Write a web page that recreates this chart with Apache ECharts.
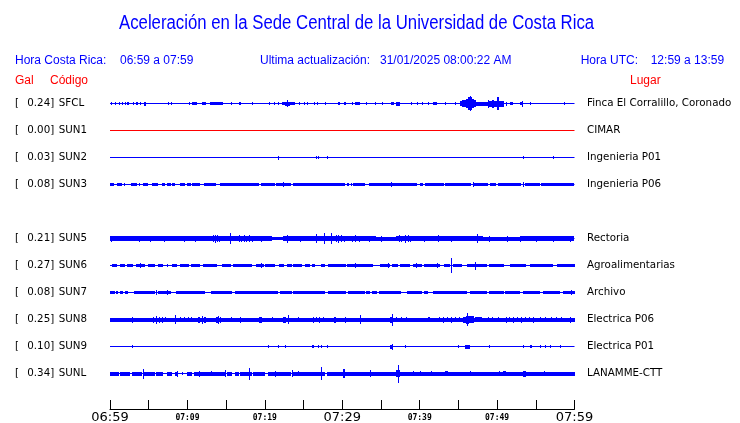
<!DOCTYPE html>
<html><head><meta charset="utf-8">
<script src="https://cdn.jsdelivr.net/npm/echarts@6/dist/echarts.min.js"></script>
<style>html,body{margin:0;padding:0;background:#fff}#c{width:740px;height:423px}</style>
</head><body><div id="c"></div>
<script>
// ---- data ----
const CODES  = ['SFCL','SUN1','SUN2','SUN3','SUN4','SUN5','SUN6','SUN7','SUN8','SUN9','SUNL'];
const GAL    = [0.24, 0.00, 0.03, 0.08, null, 0.21, 0.27, 0.08, 0.25, 0.10, 0.34];
const PLACES = ['Finca El Corralillo, Coronado','CIMAR','Ingenieria P01','Ingenieria P06','','Rectoria','Agroalimentarias','Archivo','Electrica P06','Electrica P01','LANAMME-CTT'];
const TICK_VALUES = [0, 10, 20, 30, 40, 50, 60];             // minutes after 06:59
const TICK_TEXT   = ['06:59','07:09','07:19','07:29','07:39','07:49','07:59'];
const MAJOR_TICKS = ['06:59','07:29','07:59'];

// envelope events per station: [start minute, end minute, amplitude]
const SFCL = [[0.1,0.1,1],[0.6,0.6,1],[1.1,1.1,1],[1.5,1.5,1],[2.0,2.0,1],[2.2,2.5,1],[3.0,3.0,1],[3.4,3.7,1],[3.9,3.9,1],[4.4,4.6,1.5],[7.5,7.5,1],[7.9,7.9,1],[10.2,10.2,1],[10.6,11.2,1],[11.9,12.4,1],[12.9,14.6,1],[15.6,15.6,1],[16.7,16.9,1],[18.3,18.3,1],[20.6,20.6,1],[21.2,21.2,1],[21.7,21.7,1],[22.2,23.9,1],[22.8,22.8,3],[22.6,23.2,1.5],[24.4,24.4,1],[25.1,25.1,1],[25.5,25.5,1],[26.3,26.3,1],[26.8,26.8,1],[27.8,27.8,1],[29.5,29.7,1],[30.2,30.2,1],[30.3,30.3,1],[31.2,31.2,1],[31.7,32.3,1],[33.1,33.1,1],[34.2,34.2,1],[35.1,35.1,1],[36.3,36.7,1],[37.0,37.5,1.5],[38.9,38.9,1],[39.6,39.6,1],[40.3,40.3,1],[41.1,41.1,1],[41.7,41.7,1],[41.9,42.3,1],[43.3,43.3,1],[44.5,44.5,1],[45.2,45.5,2],[45.5,46.0,3],[46.0,46.3,4],[46.3,46.8,6],[46.5,46.6,7],[46.8,47.0,4],[47.0,47.3,3],[47.3,48.8,1.5],[48.8,48.8,3.5],[49.0,50.0,2.5],[49.4,49.6,3.5],[50.0,50.3,6],[50.3,51.0,2.5],[51.2,51.2,1.5],[51.7,52.1,1],[53.0,53.4,1],[53.2,53.2,2.5],[54.3,54.3,1],[58.6,58.6,1]];
const SUN1 = [];
const SUN2 = [[21.7,21.7,1.5],[26.6,26.6,1],[26.9,26.9,1],[28.0,28.0,1],[53.4,53.4,1],[57.2,57.2,1]];
const SUN3 = [[0,0.5,1],[0.9,1.5,1],[1.8,1.8,1],[2.7,3.5,1],[3.8,3.8,1],[4.3,4.9,1],[5.4,6.2,1],[6.7,7.1,1],[7.3,7.8,1],[8.0,8.4,1],[9.1,9.7,1],[9.9,10.4,1],[10.6,11.6,1],[12.1,13.6,1],[14.2,19.2,1],[19.5,21.3,1],[21.5,23.5,1],[22.3,22.3,2],[23.7,30.4,1],[30.6,30.9,1],[31.1,31.2,1],[31.4,32.9,1],[33.4,36.2,1],[36.3,36.3,2],[36.3,39.6,1],[40.0,40.4,1],[40.7,43.1,1],[43.3,46.7,1],[46.9,46.9,2],[46.9,48.8,1],[49.1,49.9,1],[50.1,53.1,1],[53.4,53.4,2],[53.6,55.5,1],[55.7,60,1]];
const SUN4 = [];
const SUN5 = [[0,20.9,2],[20.9,22.3,1],[22.3,34.3,2],[34.3,37.0,1.5],[37.0,48.2,2],[48.2,53.0,1.5],[53.0,60,2],
  [0.1,0.1,2.5],[3.7,3.7,2.5],[5.2,5.2,2.5],[7.0,7.0,2.5],[9.5,9.5,2.5],[11.0,11.0,2.5],
  [13.3,13.3,3],[13.5,13.5,3.5],[13.8,13.8,3],[14.1,14.1,2.5],[15.5,15.5,5],
  [16.6,16.6,3],[16.9,16.9,2.5],[17.3,17.3,3],[17.6,17.6,2.5],[18.0,18.0,3],[18.4,18.4,2.5],[19.5,19.5,2.5],
  [22.8,22.8,3.5],[24.5,24.5,2.5],[26.6,26.6,4],[27.7,27.7,5],[28.6,28.6,5],
  [29.2,29.2,3],[29.5,29.5,3.5],[29.9,29.9,3],[30.2,30.2,2.5],[31.3,31.3,2.5],[31.7,31.7,3],[32.1,32.1,2.5],
  [33.5,33.5,2.5],[35.0,35.0,2.5],[37.3,37.3,3],[37.6,37.6,2.5],[38.1,38.1,3.5],[38.5,38.5,3],[38.8,38.8,2.5],
  [40.5,40.5,2.5],[42.4,42.4,3],[44.0,44.0,2.5],[47.4,47.4,4],[49.0,49.0,2.5],[51.3,51.3,2.5],[53.0,53.0,2.5],
  [55.0,55.0,2.5],[57.2,57.2,2.5],[59.4,59.4,2.5]];
const SUN6 = [[0.3,0.9,1],[1.3,1.9,1],[2.2,3.0,1],[3.4,4.5,1],[3.9,3.9,2],[4.9,5.8,1],[6.2,6.9,1],[7.3,7.3,1],[8.0,8.6,1],[9.0,10.1,1],[10.5,11.6,1],[12.0,13.8,1],[14.5,15.6,1],[15.9,18.3,1],[18.8,19.8,1],[19.5,19.5,2],[20.0,21.3,1],[21.8,22.4,1],[22.8,23.5,1],[23.7,24.8,1],[25.2,25.8,1],[26.1,26.5,1],[27.3,27.8,1],[28.1,30.4,1],[30.6,31.6,1],[31.6,31.6,2],[31.8,34.0,1],[34.9,36.2,1],[35.9,35.9,2],[36.4,37.2,1],[37.5,38.8,1],[39.2,40.3,1],[39.5,39.5,2],[40.5,42.6,1],[42.2,42.2,2],[43.1,43.9,1],[44.0,44.0,7],[44.3,45.4,1],[46.1,48.7,1],[47.2,47.2,3.5],[48.9,50.8,1],[51.7,53.8,1],[54.2,57.2,1],[57.7,60,1]];
const SUN7 = [[0,0.6,1],[0.8,1.1,1],[1.3,1.7,1],[1.9,2.3,1],[3.1,5.8,1],[6.0,6.0,2],[6.2,7.9,1],[7.3,7.3,2],[8.5,12.3,1],[13.0,15.7,1],[16.2,21.7,1],[21.9,23.5,1],[23.7,27.8,1],[28.1,30.4,1],[30.7,32.9,1],[33.1,33.6,1],[33.9,34.5,1],[34.7,37.6,1],[38.3,40.3,1],[40.5,41.0,1],[41.7,46.1,1],[46.5,48.7,1],[48.9,50.8,1],[51.0,53.0,1],[53.3,55.5,1],[55.9,58.1,1],[58.5,60,1],[59.5,59.5,2]];
const SUN8 = [[0,60,1.5],[2.9,2.9,2.5],
  [5.5,5.5,2.5],[5.9,5.9,3.5],[6.3,6.3,2.5],[6.7,6.7,2.5],[7.1,7.1,2],[8.4,8.4,4],
  [9.0,9.0,2],[9.5,9.5,2],[10.1,10.1,2],[10.5,10.5,2],
  [11.4,11.7,2.5],[11.9,11.9,3.5],[12.2,12.5,2.5],[13.7,13.9,2.5],[14.0,14.0,3.5],[14.2,14.3,2.5],
  [15.6,15.6,2],[16.8,16.8,2.5],[19.2,19.6,2.5],[20.9,20.9,2],[22.4,22.8,2.5],[23.0,23.0,4],[24.3,24.3,2],
  [26.2,26.2,2.5],[26.6,26.6,2],[27.0,27.0,2.5],[27.5,27.5,2],[28.9,29.2,2.5],[30.3,30.3,2.5],[32.3,32.3,4],
  [36.2,36.6,2.5],[36.4,36.4,5.5],[37.0,37.0,2],[37.6,37.6,2],[38.2,38.2,2],[41.1,41.3,2],
  [42.5,42.5,2],[43.0,43.0,2.5],[43.5,43.5,2],[44.0,44.0,2.5],[44.6,44.6,2],[45.1,45.1,2],
  [45.6,46.0,2.5],[46.0,46.4,3.5],[46.1,46.1,6],[46.4,47.1,3],[47.1,48.0,2],
  [48.8,48.8,2],[49.4,49.4,2],[50.1,50.1,2],
  [51.2,51.2,2.5],[51.6,51.6,2],[52.1,52.1,2.5],[52.6,52.6,2],[53.1,53.1,2.5],[53.6,53.6,2],[54.1,54.1,2],[54.6,54.6,2.5],
  [55.6,55.6,2],[56.2,56.2,2],[56.9,56.9,2],[57.6,57.6,2],[58.2,58.2,2],[59.4,59.4,2.5]];
const SUN9 = [[2.9,2.9,1],[20.4,20.4,1],[21.7,21.7,1],[22.6,22.6,1],[26.1,26.4,1],[26.9,26.9,1],[27.3,27.3,1],[28.0,28.0,1],[36.2,36.6,1.5],[36.4,36.4,2.5],[38.1,38.1,1],[45.0,45.0,1],[45.9,46.5,1.5],[49.0,49.0,1],[53.4,53.4,1],[54.2,54.4,1],[55.5,55.5,1],[56.2,56.2,1],[56.8,56.8,1],[58.1,58.1,1]];
const SUNL = [[0,1.1,1.5],[1.3,2.6,1.5],[2.8,4.1,1.5],[4.2,4.2,4.5],[4.3,5.8,1.5],[6.0,6.9,1.5],[7.3,8.0,1.5],[8.4,8.8,1.5],[8.6,8.6,2.5],[9.3,9.3,1],[9.9,10.5,1.5],[10.8,14.9,1.5],[11.5,11.5,2.5],[13.1,13.1,2],[14.9,14.9,3],[15.1,15.7,1.5],[16.1,16.6,1.5],[16.8,18.3,1.5],[18.0,18.0,5.5],[18.5,20.0,1.5],[20.4,21.3,1.5],[21.3,21.3,2.5],[21.5,23.5,1.5],[23.5,23.5,3],[23.7,26.9,1.5],[24.3,24.3,2],[26.9,27.8,1.5],[27.3,27.3,6],[28.0,33.5,1.5],[30.1,30.3,4],[33.6,33.6,3],[33.7,60,1.5],[37.0,37.5,3],[37.2,37.2,8.5],[39.2,39.2,2],[40.0,40.0,2],[41.5,41.5,2],[43.3,43.7,2],[46.5,46.5,2],[50.2,50.2,2],[50.8,51.2,2],[53.4,53.8,2.5],[56.0,56.0,2]];

const STATIONS = [SFCL,SUN1,SUN2,SUN3,SUN4,SUN5,SUN6,SUN7,SUN8,SUN9,SUNL];

// ---- chart ----
const BLUE = '#0000ff', RED = '#ff0000';
const colorOf = i => CODES[i] === 'SUN1' ? RED : BLUE;
const AMP_PX = 1; // pixels per amplitude unit
const LBL_FONT = 'DejaVu Sans', LBL_SIZE = 10.3;

const eventData = [];
STATIONS.forEach((ev, i) => ev.forEach(e => eventData.push([e[0], e[1], e[2], i])));

const baseSeries = [];
STATIONS.forEach((ev, i) => {
  if (GAL[i] == null) return;
  baseSeries.push({
    type: 'line', xAxisIndex: 0, yAxisIndex: 0, silent: true, animation: false,
    symbol: 'none', data: [[0, i], [60, i]],
    lineStyle: { color: colorOf(i), width: 1 }
  });
});

const chart = echarts.init(document.getElementById('c'), null, { renderer: 'canvas' });
const hdr = '12px "Liberation Sans", Arial, sans-serif';
function txt(x, y, text, fill, font, sx) {
  return { type: 'text', x: x, y: y, silent: true, scaleX: sx || 1,
    style: { text: text, fill: fill, font: font || hdr, verticalAlign: 'middle', align: 'left' } };
}

chart.setOption({
  animation: false,
  backgroundColor: '#fff',
  graphic: [
    txt(119, 23, 'Aceleración en la Sede Central de la Universidad de Costa Rica', BLUE, '20px "Liberation Sans", Arial, sans-serif', 0.838),
    txt(15, 61, 'Hora Costa Rica:', BLUE),
    txt(120, 61, '06:59 a 07:59', BLUE),
    txt(260, 61, 'Ultima actualización:', BLUE),
    txt(380, 61, '31/01/2025 08:00:22 AM', BLUE),
    txt(580.7, 61, 'Hora UTC:', BLUE),
    txt(650.7, 61, '12:59 a 13:59', BLUE),
    txt(15, 81, 'Gal', RED),
    txt(50, 81, 'Código', RED),
    txt(630, 81, 'Lugar', RED)
  ],
  grid: { left: 110, right: 165.5, top: 90, bottom: 36, containLabel: false, outerBoundsMode: 'none' },
  xAxis: {
    type: 'value', min: 0, max: 60, interval: 5, offset: 22,
    splitLine: { show: false },
    axisLine: { show: true, lineStyle: { color: '#000', width: 1 } },
    axisTick: { show: true, inside: true, length: 9, lineStyle: { color: '#000', width: 1 } },
    axisLabel: {
      margin: 2, showMinLabel: true, showMaxLabel: true, color: '#000',
      formatter: v => {
        const k = TICK_VALUES.indexOf(v);
        if (k < 0) return '';
        const t = TICK_TEXT[k];
        return (MAJOR_TICKS.indexOf(t) >= 0 ? '{big|' : '{small|') + t + '}';
      },
      rich: {
        big: { fontFamily: 'DejaVu Sans', fontSize: 13, lineHeight: 14, color: '#000' },
        small: { fontFamily: 'DejaVu Sans Mono', fontWeight: 'bold', fontSize: 8, lineHeight: 14, color: '#000' }
      }
    }
  },
  yAxis: [
    {
      type: 'category', inverse: true, data: CODES, position: 'left',
      axisLine: { show: false }, axisTick: { show: false }, splitLine: { show: false },
      axisLabel: {
        interval: 0, align: 'left', margin: 95, color: '#000',
        formatter: (code, idx) => GAL[idx] == null ? '' :
          '{br|[}{val|' + GAL[idx].toFixed(2) + ']}{code|' + code + '}',
        rich: {
          br: { width: 12.3, fontFamily: LBL_FONT, fontSize: LBL_SIZE, color: '#000' },
          val: { fontFamily: LBL_FONT, fontSize: LBL_SIZE, color: '#000' },
          code: { fontFamily: LBL_FONT, fontSize: LBL_SIZE, color: '#000', padding: [0, 0, 0, 4.5] }
        }
      }
    },
    {
      type: 'category', inverse: true, data: CODES, position: 'right',
      axisLine: { show: false }, axisTick: { show: false }, splitLine: { show: false },
      axisLabel: {
        interval: 0, align: 'left', margin: 12.5, color: '#000',
        fontFamily: LBL_FONT, fontSize: LBL_SIZE,
        formatter: (code, idx) => PLACES[idx]
      }
    }
  ],
  series: baseSeries.concat([{
    type: 'custom', xAxisIndex: 0, yAxisIndex: 0, silent: true, animation: false,
    dimensions: ['t0', 't1', 'amp', 'row'],
    encode: { x: [0, 1], y: 3 },
    data: eventData,
    renderItem: (params, api) => {
      const r = api.value(3);
      const p0 = api.coord([api.value(0), r]);
      const p1 = api.coord([api.value(1), r]);
      const h = api.value(2) * AMP_PX;
      const x = Math.round(p0[0]);
      const w = Math.max(1, Math.round(p1[0] - p0[0]));
      const y = Math.round(p0[1] - 0.5 - h);
      const hh = Math.round(2 * h + 1);
      return { type: 'rect', shape: { x: x, y: y, width: w, height: hh },
        style: { fill: colorOf(r) } };
    }
  }])
});
</script></body></html>
